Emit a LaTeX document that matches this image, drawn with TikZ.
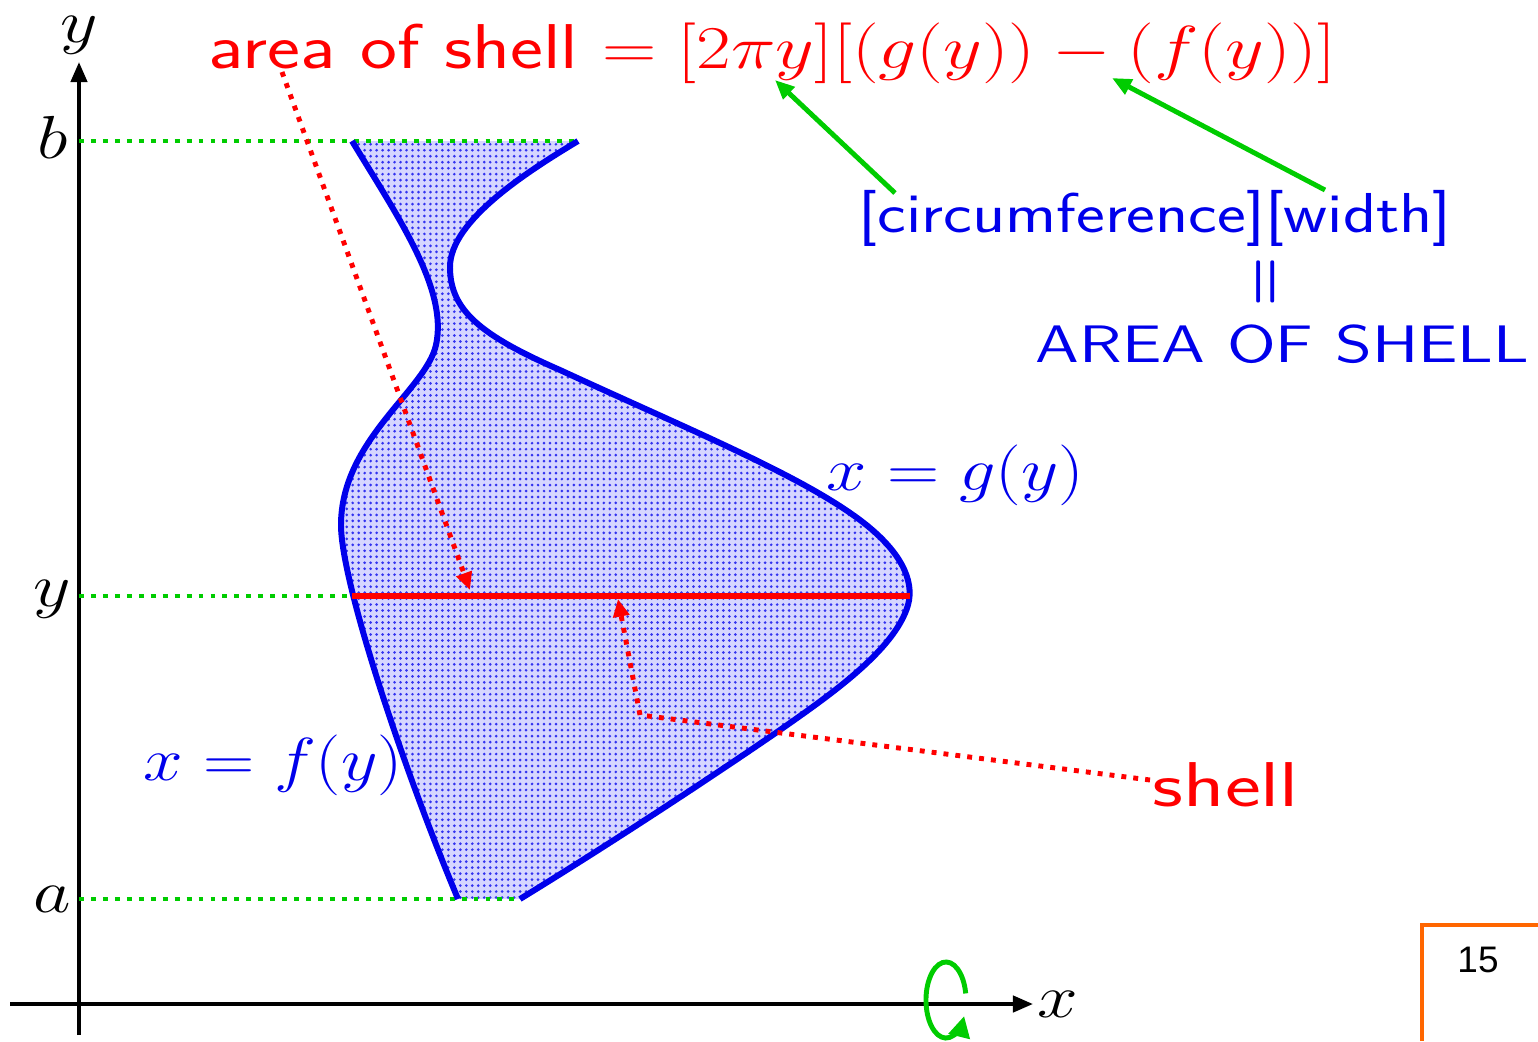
\documentclass[tikz,border=0pt]{standalone}
\usepackage{fontspec}
\usetikzlibrary{arrows.meta,patterns}
\definecolor{myred}{RGB}{255,0,0}
\definecolor{myblue}{RGB}{0,0,235}
\definecolor{mygreen}{RGB}{0,204,0}
\definecolor{myorange}{RGB}{255,102,0}
\newfontfamily\slidenum{Liberation Sans}
\pgfdeclarepatternformonly{densedots}{\pgfqpoint{-1pt}{-1pt}}{\pgfqpoint{1pt}{1pt}}{\pgfqpoint{1.7pt}{1.7pt}}{\pgfpathcircle{\pgfqpoint{0pt}{0pt}}{0.42pt}\pgfusepath{fill}}
\tikzset{
  axis/.style={line width=1.1pt,-{Triangle[length=5.7pt,width=4.6pt]}},
  guide/.style={mygreen,line width=1.4pt,dash pattern=on 1.4pt off 2pt},
  curve/.style={myblue,line width=1.7pt},
  leader/.style={myred,line width=1.4pt,dash pattern=on 1.4pt off 2pt,-{Triangle[length=5pt,width=4.5pt]}},
  pointer/.style={mygreen,line width=1.4pt,-{Triangle[length=5.5pt,width=4.6pt]}},
  big/.style={font=\fontsize{18}{22}\selectfont,inner sep=0pt},
  mid/.style={font=\fontsize{16}{20}\selectfont,inner sep=0pt},
}
\begin{document}
\begin{tikzpicture}[x=0.01cm,y=-0.01cm]
\useasboundingbox (0,0) rectangle (1538,1041);
% region
\path[preaction={fill=blue!16},pattern=densedots,pattern color=myblue!80]
  (352,141) .. controls (400,220) and (448,290) .. (436,345)
  .. controls (426,390) and (341,440) .. (341,525)
  .. controls (341,580) and (400,760) .. (458,899)
  -- (520,899) .. controls (600,850) and (700,785) .. (780,730)
  .. controls (830,695) and (895,650) .. (908,605)
  .. controls (915,580) and (900,550) .. (860,520)
  .. controls (800,475) and (690,430) .. (560,370)
  .. controls (480,335) and (450,310) .. (450,267)
  .. controls (450,220) and (530,170) .. (578,141) -- cycle;
% axes
\coordinate (yb) at (79,1035); \coordinate (yt) at (79,62);
\coordinate (xl) at (10,1004); \coordinate (xr) at (1033,1004);
\draw[axis] (yb) -- (yt);
\draw[axis] (xl) -- (xr);
\node[big,anchor=base,xscale=1.2] (ylab) at (79,42) {$y$};
\node[big,anchor=base,xscale=1.2] (xlab) at (1058,1017) {$x$};
% guides
\coordinate (b0) at (79,141); \coordinate (b1) at (578,141);
\coordinate (y0) at (79,596); \coordinate (y1) at (352,596); \coordinate (y2) at (910,596);
\coordinate (a0) at (79,899); \coordinate (a1) at (520,899);
\draw[guide] (b0) -- (b1);
\draw[guide] (y0) -- (y1);
\draw[guide] (a0) -- (a1);
\node[big,anchor=base,xscale=1.2] (blab) at (53,158) {$b$};
\node[big,anchor=base,xscale=1.2] (ylev) at (52,606) {$y$};
\node[big,anchor=base,xscale=1.2] (alab) at (52,912) {$a$};
% curves
\draw[curve] (352,141) .. controls (400,220) and (448,290) .. (436,345)
  .. controls (426,390) and (341,440) .. (341,525)
  .. controls (341,580) and (400,760) .. (458,899);
\draw[curve] (578,141) .. controls (530,170) and (450,220) .. (450,267)
  .. controls (450,310) and (480,335) .. (560,370)
  .. controls (690,430) and (800,475) .. (860,520)
  .. controls (900,550) and (915,580) .. (908,605)
  .. controls (895,650) and (830,695) .. (780,730)
  .. controls (700,785) and (600,850) .. (520,899);
% shell line
\draw[myred,line width=1.5pt] (y1) -- (y2);
% labels
\node[big,myred,anchor=base west,xscale=1.24] (formula) at (208,68)
  {\sffamily area of shell $=[2\pi y][(g(y))-(f(y))]$};
\node[big,myblue,anchor=base west,xscale=1.19] (glab) at (826,490) {$x=g(y)$};
\node[big,myblue,anchor=base west,xscale=1.17] (flab) at (143,780) {$x=f(y)$};
\node[mid,myblue,anchor=base west,xscale=1.22] (circ) at (858,232) {\sffamily [circumference][width]};
\node[font=\fontsize{12}{14}\selectfont\boldmath,inner sep=0pt,myblue,anchor=center,xscale=1.5] (par) at (1266,282) {$\|$};
\node[font=\fontsize{15}{18}\selectfont,inner sep=0pt,myblue,anchor=base west,xscale=1.28] (aos) at (1035,362) {\sffamily AREA OF SHELL};
\node[big,myred,anchor=base west,xscale=1.35] (shell) at (1152,806) {\sffamily shell};
% leaders
\coordinate (l1s) at (282,72); \coordinate (l1e) at (470,590);
\draw[leader] (l1s) -- (l1e);
\coordinate (l2s) at (1150,780); \coordinate (l2c) at (640,715); \coordinate (l2e) at (618,599);
\draw[leader] (l2s) -- (l2c) -- (l2e);
% green pointers
\coordinate (p1s) at (895,193); \coordinate (p1e) at (775,80);
\coordinate (p2s) at (1325,190); \coordinate (p2e) at (1112,78);
\draw[pointer] (p1s) -- (p1e);
\draw[pointer] (p2s) -- (p2e);
% rotation
\coordinate (rot) at (946,1000);
\draw[mygreen,line width=1.4pt,-{Triangle[length=6pt,width=6pt]}]
  ([shift={(10:0.2cm and 0.38cm)}]rot) arc[start angle=10,end angle=335,x radius=0.2cm,y radius=0.38cm];
% slide number
\coordinate (o1) at (1422,1041); \coordinate (o2) at (1422,925); \coordinate (o3) at (1538,925);
\draw[myorange,line width=1.4pt] (o1) -- (o2) -- (o3);
\node[anchor=base,inner sep=0pt,font=\slidenum\fontsize{10.5}{12}\selectfont] (num) at (1478,972) {15};
\end{tikzpicture}
\end{document}
